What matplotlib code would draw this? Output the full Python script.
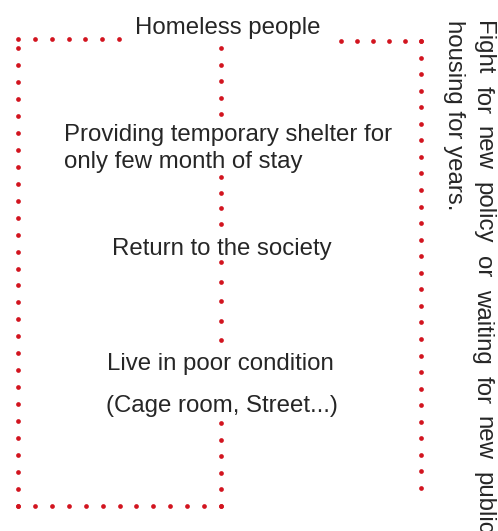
import numpy as np
import matplotlib
matplotlib.use('Agg')
import matplotlib.pyplot as plt

# dotted connector segments (x0, y0, x1, y1, number of dots), pixel space
segments = [
    (18, 39, 119, 39, 7),     # top left
    (18, 48, 18, 506, 28),    # left side
    (18, 506, 221, 506, 13),  # bottom
    (221, 48, 221, 114, 5),   # middle: homeless -> shelter
    (221, 177, 221, 224, 4),  # middle: shelter -> return
    (221, 262, 221, 340, 5),  # middle: return -> poor condition
    (221, 423, 221, 506, 6),  # middle: poor condition -> bottom
    (341, 41, 421, 41, 6),    # top right
    (421, 41, 421, 488, 28),  # right side
]

# horizontal labels: text, x, baseline y, alignment
labels = ["Homeless people",
          "Providing temporary shelter for",
          "only few month of stay",
          "Return to the society",
          "Live in poor condition",
          "(Cage room, Street...)"]
label_x = [228, 64, 64, 222, 220, 222]
label_y = [34, 141, 168, 255, 370, 412]
label_ha = ['center', 'left', 'left', 'center', 'center', 'center']

# vertical (rotated) note, first line is justified and runs off the page
note_line1 = "Fight for new policy or waiting for new public".split()
note_line2 = "housing for years."

red = '#d2141f'
txt = '#262626'
fs = 17.3

fig = plt.figure(figsize=(4.98, 5.31), dpi=100)
ax = fig.add_axes([0, 0, 1, 1])
ax.set_xlim(0, 498)
ax.set_ylim(531, 0)
ax.axis('off')

for x0, y0, x1, y1, n in segments:
    ax.plot(np.linspace(x0, x1, n), np.linspace(y0, y1, n), ls='none',
            marker='o', ms=3.4, mfc=red, mec=red, mew=0)

for s, x, y, ha in zip(labels, label_x, label_y, label_ha):
    t = ax.text(x, y, s, ha=ha, va='baseline', fontsize=fs, color=txt,
                family='Liberation Sans')

# rotated note: words placed one after another with a fixed gap
renderer = fig.canvas.get_renderer()
y = 21
for w in note_line1:
    t = ax.text(477, y, w, rotation=270, rotation_mode='anchor', ha='left',
                va='baseline', fontsize=fs, color=txt, family='Liberation Sans')
    bb = t.get_window_extent(renderer)
    y += bb.height + 12

ax.text(448, 20, note_line2, rotation=270, rotation_mode='anchor', ha='left',
        va='baseline', fontsize=fs, color=txt, family='Liberation Sans')

fig.savefig('out.png', dpi=100)
